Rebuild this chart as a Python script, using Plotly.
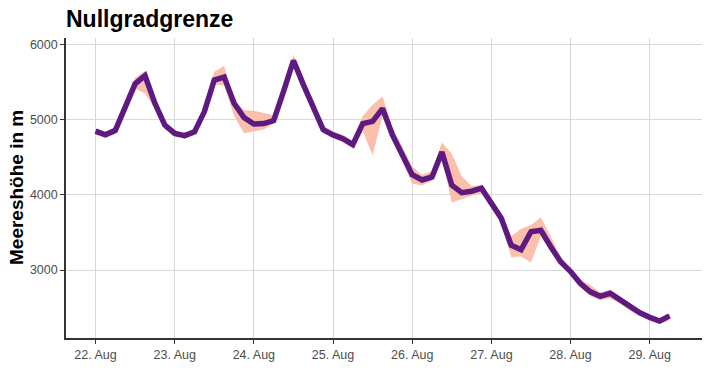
import pandas as pd
import plotly.graph_objects as go

# 3-hourly values from 22 Aug 00:00 to 29 Aug 06:00
start = "2023-08-22 00:00"
median = [
    4850, 4800, 4860, 5160, 5480, 5590, 5220, 4930,
    4820, 4790, 4840, 5110, 5530, 5570, 5220, 5030,
    4945, 4950, 4990, 5380, 5790, 5470, 5160, 4870,
    4800, 4750, 4670, 4950, 4980, 5150, 4800, 4530,
    4270, 4200, 4240, 4570, 4130, 4030, 4050, 4090,
    3890, 3690, 3330, 3270, 3510, 3530, 3310, 3110,
    2980, 2820, 2710, 2650, 2690, 2600, 2510, 2430,
    2370, 2320, 2390,
]
lower = [
    4800, 4760, 4810, 5110, 5420, 5350, 5150, 4880,
    4780, 4750, 4800, 5060, 5470, 5460, 5050, 4820,
    4850, 4870, 4950, 5330, 5740, 5400, 5100, 4820,
    4760, 4700, 4620, 4850, 4530, 5050, 4740, 4450,
    4150, 4130, 4190, 4500, 3900, 3950, 3990, 4020,
    3820, 3620, 3170, 3180, 3100, 3450, 3250, 3060,
    2940, 2780, 2650, 2600, 2620, 2550, 2460, 2390,
    2330, 2280, 2330,
]
upper = [
    4880, 4840, 4890, 5200, 5560, 5650, 5300, 4970,
    4860, 4820, 4880, 5170, 5640, 5720, 5250, 5130,
    5120, 5090, 5060, 5420, 5870, 5520, 5230, 4920,
    4840, 4800, 4720, 5050, 5200, 5310, 4900, 4650,
    4380, 4270, 4320, 4700, 4550, 4250, 4120, 4130,
    3960, 3760, 3450, 3550, 3600, 3700, 3450, 3170,
    3020, 2870, 2800, 2700, 2740, 2650, 2570, 2470,
    2400, 2360, 2420,
]
day_ticks = pd.date_range("2023-08-22", "2023-08-29", freq="D")
tick_labels = ["22. Aug", "23. Aug", "24. Aug", "25. Aug",
               "26. Aug", "27. Aug", "28. Aug", "29. Aug"]
y_ticks = [3000, 4000, 5000, 6000]

times = pd.date_range(start, periods=len(median), freq="3h")

fig = go.Figure()
fig.add_trace(go.Scatter(
    x=list(times) + list(times[::-1]),
    y=upper + lower[::-1],
    fill="toself", fillcolor="#FBC0AB", line=dict(width=0),
    mode="lines", hoverinfo="skip", showlegend=False,
))
fig.add_trace(go.Scatter(
    x=times, y=median, mode="lines",
    line=dict(color="#5E1A80", width=5.5), showlegend=False,
))

t0 = pd.Timestamp("2023-08-22")
x_range = [t0 + pd.Timedelta(days=-0.373), t0 + pd.Timedelta(days=7.673)]

fam = "Liberation Sans, Arial, sans-serif"
tickfont = dict(family=fam, size=12.5, color="#4D4D4D")
fig.update_layout(
    width=710, height=391,
    margin=dict(l=58, r=15, t=30, b=61),
    paper_bgcolor="white", plot_bgcolor="white",
    font=dict(family=fam),
    xaxis=dict(
        range=x_range, tickvals=list(day_ticks), ticktext=tick_labels,
        showgrid=True, gridcolor="#D9D9D9", gridwidth=1.3,
        showline=True, linecolor="#333333", linewidth=1.6,
        ticks="outside", ticklen=4, tickcolor="#333333", tickwidth=1.2,
        tickfont=tickfont, zeroline=False, automargin=False,
    ),
    yaxis=dict(
        range=[2095, 6090], tickvals=y_ticks, ticktext=[str(v) for v in y_ticks],
        showgrid=True, gridcolor="#D9D9D9", gridwidth=1.3,
        showline=True, linecolor="#333333", linewidth=1.6,
        ticks="outside", ticklen=4, tickcolor="#333333", tickwidth=1.2,
        tickfont=tickfont, zeroline=False, automargin=False,
    ),
    annotations=[
        dict(text="<b>Nullgradgrenze</b>", xref="paper", yref="paper",
             x=0, y=1, xanchor="left", yanchor="bottom", xshift=-2, yshift=4,
             showarrow=False,
             font=dict(family=fam, size=23, color="black")),
        dict(text="<b>Meereshöhe in m</b>", xref="paper", yref="paper",
             x=0, y=0.5, xanchor="center", yanchor="middle", xshift=-50,
             textangle=-90, showarrow=False,
             font=dict(family=fam, size=19, color="black")),
    ],
)

fig.write_html("out.html")
